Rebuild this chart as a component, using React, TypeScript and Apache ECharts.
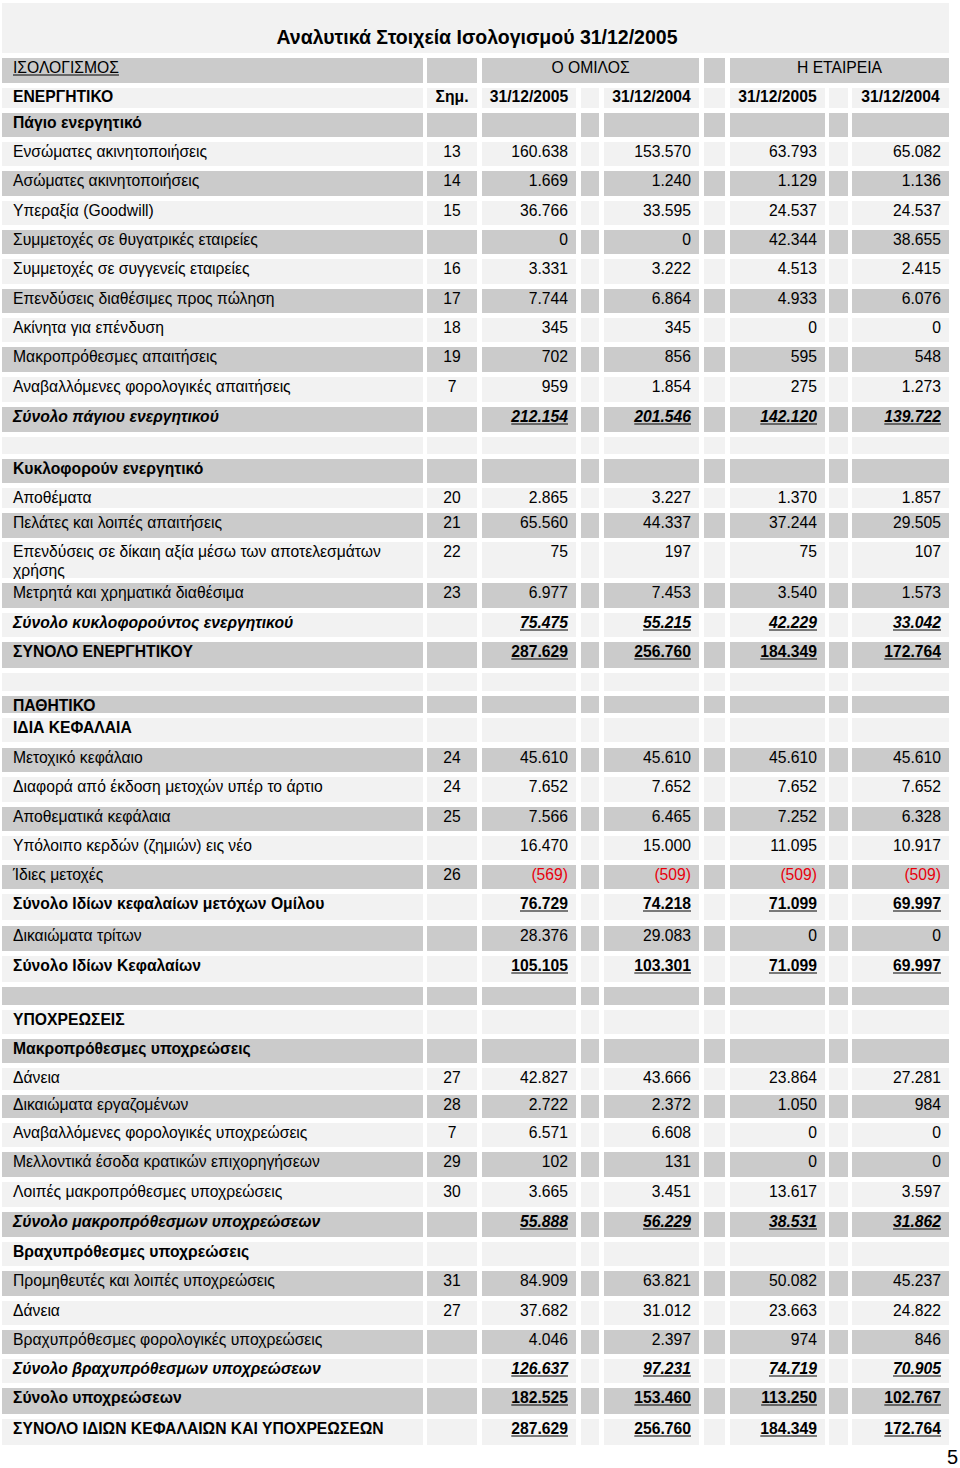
import React, { useEffect, useRef } from 'react';
import * as echarts from 'echarts';

// ---------- data ----------
const title = 'Αναλυτικά Στοιχεία Ισολογισμού 31/12/2005';
const topHeader = ['ΙΣΟΛΟΓΙΣΜΟΣ', 'Ο ΟΜΙΛΟΣ', 'Η ΕΤΑΙΡΕΙΑ'];
const columnHeader = ['ΕΝΕΡΓΗΤΙΚΟ', 'Σημ.', '31/12/2005', '31/12/2004', '31/12/2005', '31/12/2004'];
const pageNumber = '5';

const rowLabels = [
  'Πάγιο ενεργητικό',
  'Ενσώματες ακινητοποιήσεις',
  'Ασώματες ακινητοποιήσεις',
  'Υπεραξία (Goodwill)',
  'Συμμετοχές σε θυγατρικές εταιρείες',
  'Συμμετοχές σε συγγενείς εταιρείες',
  'Επενδύσεις διαθέσιμες προς πώληση',
  'Ακίνητα για επένδυση',
  'Μακροπρόθεσμες απαιτήσεις',
  'Αναβαλλόμενες φορολογικές απαιτήσεις',
  'Σύνολο πάγιου ενεργητικού',
  '',
  'Κυκλοφορούν ενεργητικό',
  'Αποθέματα',
  'Πελάτες και λοιπές απαιτήσεις',
  'Επενδύσεις σε δίκαιη αξία μέσω των αποτελεσμάτων\nχρήσης',
  'Μετρητά και χρηματικά διαθέσιμα',
  'Σύνολο κυκλοφορούντος ενεργητικού',
  'ΣΥΝΟΛΟ ΕΝΕΡΓΗΤΙΚΟΥ',
  '',
  'ΠΑΘΗΤΙΚΟ',
  'ΙΔΙΑ ΚΕΦΑΛΑΙΑ',
  'Μετοχικό κεφάλαιο',
  'Διαφορά από έκδοση μετοχών υπέρ το άρτιο',
  'Αποθεματικά κεφάλαια',
  'Υπόλοιπο κερδών (ζημιών) εις νέο',
  'Ίδιες μετοχές',
  'Σύνολο Ιδίων κεφαλαίων μετόχων Ομίλου',
  'Δικαιώματα τρίτων',
  'Σύνολο Ιδίων Κεφαλαίων',
  '',
  'ΥΠΟΧΡΕΩΣΕΙΣ',
  'Μακροπρόθεσμες υποχρεώσεις',
  'Δάνεια',
  'Δικαιώματα εργαζομένων',
  'Αναβαλλόμενες φορολογικές υποχρεώσεις',
  'Μελλοντικά έσοδα κρατικών επιχορηγήσεων',
  'Λοιπές μακροπρόθεσμες υποχρεώσεις',
  'Σύνολο μακροπρόθεσμων υποχρεώσεων',
  'Βραχυπρόθεσμες υποχρεώσεις',
  'Προμηθευτές και λοιπές υποχρεώσεις',
  'Δάνεια',
  'Βραχυπρόθεσμες φορολογικές υποχρεώσεις',
  'Σύνολο βραχυπρόθεσμων υποχρεώσεων',
  'Σύνολο υποχρεώσεων',
  'ΣΥΝΟΛΟ ΙΔΙΩΝ ΚΕΦΑΛΑΙΩΝ ΚΑΙ ΥΠΟΧΡΕΩΣΕΩΝ',
];

const rowKinds = [
  'section', 'item', 'item', 'item', 'item', 'item', 'item', 'item', 'item', 'item',
  'subtotal', 'blank', 'section', 'item', 'item', 'item', 'item', 'subtotal', 'total', 'blank',
  'section', 'section', 'item', 'item', 'item', 'item', 'item', 'total', 'item', 'total',
  'blank', 'section', 'section', 'item', 'item', 'item', 'item', 'item', 'subtotal', 'section',
  'item', 'item', 'item', 'subtotal', 'total', 'total',
];

const rowNotes = [
  '', '13', '14', '15', '', '16', '17', '18', '19', '7',
  '', '', '', '20', '21', '22', '23', '', '', '',
  '', '', '24', '24', '25', '', '26', '', '', '',
  '', '', '', '27', '28', '7', '29', '30', '', '',
  '31', '27', '', '', '', '',
];

type V = number | null;
const groupY2005: V[] = [
  null, 160638, 1669, 36766, 0, 3331, 7744, 345, 702, 959,
  212154, null, null, 2865, 65560, 75, 6977, 75475, 287629, null,
  null, null, 45610, 7652, 7566, 16470, -569, 76729, 28376, 105105,
  null, null, null, 42827, 2722, 6571, 102, 3665, 55888, null,
  84909, 37682, 4046, 126637, 182525, 287629,
];
const groupY2004: V[] = [
  null, 153570, 1240, 33595, 0, 3222, 6864, 345, 856, 1854,
  201546, null, null, 3227, 44337, 197, 7453, 55215, 256760, null,
  null, null, 45610, 7652, 6465, 15000, -509, 74218, 29083, 103301,
  null, null, null, 43666, 2372, 6608, 131, 3451, 56229, null,
  63821, 31012, 2397, 97231, 153460, 256760,
];
const companyY2005: V[] = [
  null, 63793, 1129, 24537, 42344, 4513, 4933, 0, 595, 275,
  142120, null, null, 1370, 37244, 75, 3540, 42229, 184349, null,
  null, null, 45610, 7652, 7252, 11095, -509, 71099, 0, 71099,
  null, null, null, 23864, 1050, 0, 0, 13617, 38531, null,
  50082, 23663, 974, 74719, 113250, 184349,
];
const companyY2004: V[] = [
  null, 65082, 1136, 24537, 38655, 2415, 6076, 0, 548, 1273,
  139722, null, null, 1857, 29505, 107, 1573, 33042, 172764, null,
  null, null, 45610, 7652, 6328, 10917, -509, 69997, 0, 69997,
  null, null, null, 27281, 984, 0, 0, 3597, 31862, null,
  45237, 24822, 846, 70905, 102767, 172764,
];

// ---------- layout ----------
// rows: title, top header, column header, then data rows
const rowTops = [
  3, 58, 88, 113, 142, 171, 201, 230, 259, 289, 318, 347, 377, 407, 437, 459, 488, 513, 542, 583,
  613, 642, 673, 696, 718, 748, 777, 807, 836, 865, 894, 926, 956, 987, 1010, 1039, 1068, 1095, 1123,
  1152, 1182, 1212, 1242, 1271, 1301, 1330, 1359, 1388, 1419,
];
const rowBottoms = [
  53, 83, 108, 137, 166, 196, 225, 254, 284, 313, 342, 372, 402, 432, 454, 483, 508, 538, 578, 608,
  637, 668, 691, 713, 742, 772, 802, 831, 860, 889, 920, 951, 982, 1005, 1034, 1063, 1090, 1118, 1147,
  1177, 1207, 1237, 1266, 1296, 1325, 1354, 1383, 1414, 1445,
];
const colX = [2, 427, 482, 581, 604, 704, 730, 829, 852];
const colW = [421, 50, 94, 18, 95, 21, 95, 19, 97];
const valueCols = [2, 4, 6, 8];

const LIGHT = '#f2f2f2';
const DARK = '#cbcbcb';
const INK = '#000000';
const RED = '#e8000b';
const FONT = "'Liberation Sans', Arial, Helvetica, sans-serif";
const FS = 15.7;

const fmt = (n: number) => {
  const s = Math.abs(n).toString().replace(/\B(?=(\d{3})+(?!\d))/g, '.');
  return n < 0 ? '(' + s + ')' : s;
};

let measureCtx: CanvasRenderingContext2D | null = null;
const textWidth = (text: string, weight: string, style: string, size: number) => {
  if (!measureCtx) measureCtx = document.createElement('canvas').getContext('2d');
  if (!measureCtx) return text.length * size * 0.55;
  measureCtx.font = `${style} ${weight} ${size}px ${FONT}`;
  return measureCtx.measureText(text).width;
};

const txt = (
  x: number, y: number, text: string,
  opts: { align?: string; weight?: string; italic?: boolean; size?: number; fill?: string } = {}
) => ({
  type: 'text',
  x,
  y,
  silent: true,
  style: {
    text,
    fill: opts.fill || INK,
    fontSize: opts.size || FS,
    fontWeight: opts.weight || 'normal',
    fontStyle: opts.italic ? 'italic' : 'normal',
    fontFamily: FONT,
    align: opts.align || 'left',
    verticalAlign: 'middle',
  },
});

const rect = (x: number, y: number, w: number, h: number, fill: string) => ({
  type: 'rect',
  silent: true,
  shape: { x, y, width: w, height: h },
  style: { fill },
});

const uline = (x1: number, x2: number, y: number) => ({
  type: 'line',
  silent: true,
  shape: { x1, y1: y, x2, y2: y },
  style: { stroke: INK, lineWidth: 1.2 },
});

function buildElements() {
  const els: any[] = [];
  const fillOf = (r: number) => (r % 2 === 0 ? LIGHT : DARK);

  // title row
  els.push(rect(2, rowTops[0], 947, rowBottoms[0] - rowTops[0], fillOf(0)));
  els.push(txt(477, 37, title, { align: 'center', weight: 'bold', size: 19.5 }));

  // top header row
  {
    const t = rowTops[1];
    const h = rowBottoms[1] - t;
    const f = fillOf(1);
    els.push(rect(colX[0], t, colW[0], h, f));
    els.push(rect(colX[1], t, colW[1], h, f));
    els.push(rect(colX[2], t, colX[4] + colW[4] - colX[2], h, f));
    els.push(rect(colX[5], t, colW[5], h, f));
    els.push(rect(colX[6], t, colX[8] + colW[8] - colX[6], h, f));
    const cy = t + 9.5;
    els.push(txt(13, cy, topHeader[0]));
    els.push(uline(13, 13 + textWidth(topHeader[0], 'normal', 'normal', FS), cy + 7.5));
    els.push(txt((colX[2] + colX[4] + colW[4]) / 2, cy, topHeader[1], { align: 'center' }));
    els.push(txt((colX[6] + colX[8] + colW[8]) / 2, cy, topHeader[2], { align: 'center' }));
  }

  // column header row
  {
    const t = rowTops[2];
    const h = rowBottoms[2] - t;
    const f = fillOf(2);
    colX.forEach((x, c) => els.push(rect(x, t, colW[c], h, f)));
    const cy = t + 8.5;
    els.push(txt(13, cy, columnHeader[0], { weight: 'bold' }));
    els.push(txt(colX[1] + colW[1] / 2, cy, columnHeader[1], { align: 'center', weight: 'bold' }));
    valueCols.forEach((c, k) => {
      els.push(txt(colX[c] + colW[c] / 2, cy, columnHeader[k + 2], { align: 'center', weight: 'bold' }));
    });
  }

  const series = [groupY2005, groupY2004, companyY2005, companyY2004];

  rowLabels.forEach((label, i) => {
    const r = i + 3;
    const t = rowTops[r];
    const h = rowBottoms[r] - t;
    const f = fillOf(r);
    colX.forEach((x, c) => els.push(rect(x, t, colW[c], h, f)));
    const kind = rowKinds[i];
    if (kind === 'blank') return;
    const cy = t + 9.5;
    const weight = kind === 'item' ? 'normal' : 'bold';
    const italic = kind === 'subtotal';
    label.split('\n').forEach((line, li) => {
      els.push(txt(13, cy + li * 19, line, { weight, italic }));
    });
    if (rowNotes[i]) {
      els.push(txt(colX[1] + colW[1] / 2, cy, rowNotes[i], { align: 'center' }));
    }
    series.forEach((s, k) => {
      const v = s[i];
      if (v === null || v === undefined) return;
      const c = valueCols[k];
      const right = colX[c] + colW[c] - 8;
      const str = fmt(v);
      const isTotal = kind === 'subtotal' || kind === 'total';
      els.push(
        txt(right, cy, str, {
          align: 'right',
          weight: isTotal ? 'bold' : 'normal',
          italic,
          fill: v < 0 ? RED : INK,
        })
      );
      if (isTotal) {
        const w = textWidth(str, 'bold', italic ? 'italic' : 'normal', FS);
        els.push(uline(right - w, right, cy + 7.5));
      }
    });
  });

  // page number
  els.push(txt(958, 1457, pageNumber, { align: 'right', size: 20 }));
  return els;
}

export default function App() {
  const ref = useRef<HTMLDivElement>(null);
  useEffect(() => {
    if (!ref.current) return;
    const chart = echarts.init(ref.current, undefined, { renderer: 'svg' });
    chart.setOption({
      animation: false,
      backgroundColor: '#ffffff',
      graphic: { elements: buildElements() },
    });
    return () => chart.dispose();
  }, []);
  return (
    <div
      ref={ref}
      style={{ position: 'absolute', left: 0, top: 0, width: 960, height: 1468, background: '#fff' }}
    />
  );
}
